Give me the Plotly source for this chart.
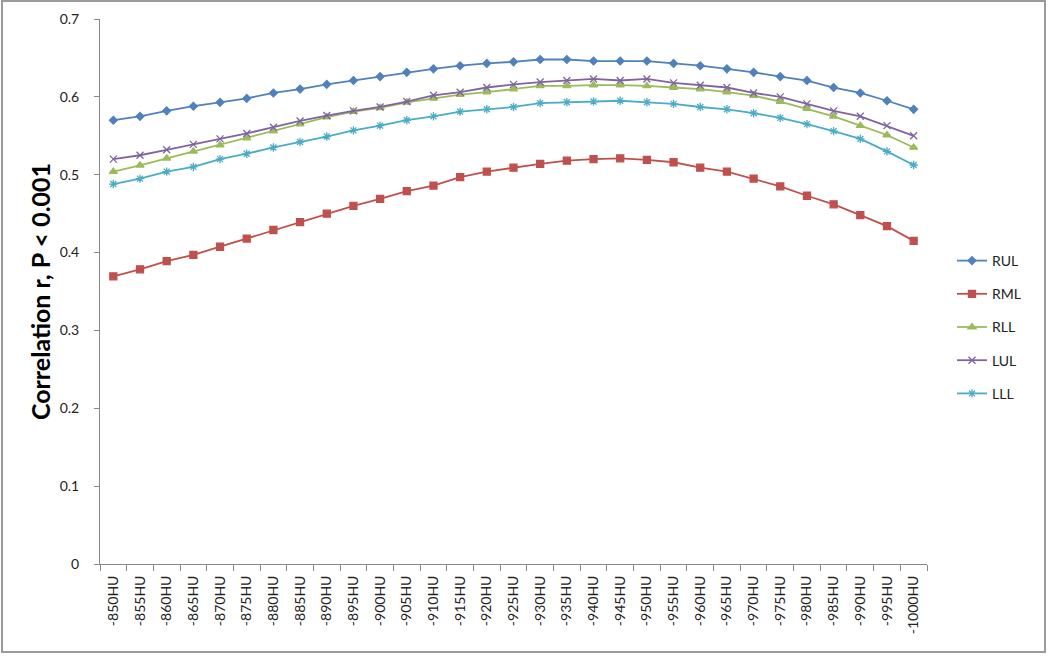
import plotly.graph_objects as go

categories = [f"-{v}HU" for v in range(850, 1001, 5)]

RUL = [0.570, 0.575, 0.582, 0.588, 0.593, 0.598, 0.605, 0.610, 0.616, 0.621,
       0.626, 0.6315, 0.636, 0.640, 0.643, 0.645, 0.648, 0.648, 0.646, 0.646,
       0.646, 0.643, 0.640, 0.636, 0.6315, 0.626, 0.621, 0.612, 0.605, 0.595, 0.584]
RML = [0.3695, 0.3785, 0.389, 0.397, 0.4075, 0.418, 0.429, 0.439, 0.450, 0.460,
       0.469, 0.479, 0.486, 0.497, 0.504, 0.509, 0.514, 0.518, 0.520, 0.521,
       0.519, 0.516, 0.509, 0.504, 0.495, 0.485, 0.473, 0.462, 0.448, 0.434, 0.415]
RLL = [0.504, 0.512, 0.521, 0.530, 0.538, 0.547, 0.556, 0.565, 0.574, 0.581,
       0.586, 0.593, 0.598, 0.603, 0.606, 0.610, 0.614, 0.614, 0.615, 0.615,
       0.614, 0.612, 0.610, 0.606, 0.6015, 0.594, 0.585, 0.575, 0.563, 0.551, 0.535]
LUL = [0.520, 0.525, 0.532, 0.539, 0.546, 0.553, 0.561, 0.569, 0.576, 0.582,
       0.587, 0.594, 0.602, 0.606, 0.612, 0.616, 0.619, 0.621, 0.623, 0.621,
       0.623, 0.618, 0.615, 0.612, 0.605, 0.600, 0.591, 0.582, 0.575, 0.563, 0.550]
LLL = [0.488, 0.495, 0.504, 0.510, 0.520, 0.527, 0.535, 0.542, 0.549, 0.557,
       0.563, 0.570, 0.575, 0.581, 0.584, 0.587, 0.592, 0.593, 0.594, 0.595,
       0.593, 0.591, 0.587, 0.584, 0.579, 0.573, 0.565, 0.556, 0.546, 0.530, 0.5125]

series_names = ["RUL", "RML", "RLL", "LUL", "LLL"]
series_values = [RUL, RML, RLL, LUL, LLL]
colors = ["#4F81BD", "#C0504D", "#9BBB59", "#8064A2", "#4BACC6"]
symbols = ["diamond", "square", "triangle-up", "x-thin-open", "asterisk-open"]
sizes = [6, 7, 7, 7, 7]

FONT = "Lato, 'Open Sans', sans-serif"

fig = go.Figure()
for name, vals, col, sym, sz in zip(series_names, series_values, colors, symbols, sizes):
    fig.add_trace(go.Scatter(
        x=categories, y=vals, name=name, mode="lines+markers",
        legendgroup=name,
        line=dict(color=col, width=1.8),
        marker=dict(symbol=sym, size=sz, color=col, line=dict(color=col, width=1.3)),
    ))

L, T, R, B = 100, 19, 123, 96
W, H = 1050, 660
pw, ph = W - L - R, H - T - B

fig.update_layout(
    width=W, height=H,
    margin=dict(l=L, r=R, t=T, b=B, autoexpand=False),
    paper_bgcolor="white", plot_bgcolor="white",
    font=dict(family=FONT, size=12, color="#222"),
    showlegend=True,
    legend=dict(
        x=(952 - L) / pw, xanchor="left",
        y=(564 - 245) / ph, yanchor="top",
        font=dict(family=FONT, size=14, color="#222"),
        tracegroupgap=12,
        bgcolor="rgba(0,0,0,0)",
    ),
    xaxis=dict(
        type="category", range=[-0.5, len(categories) - 0.5], automargin=False,
        showline=True, linecolor="#888", linewidth=1,
        ticks="outside", tickson="boundaries", ticklen=6, tickcolor="#888",
        tickangle=-90, ticklabelstandoff=5,
        tickfont=dict(family=FONT, size=14, color="#222"),
        showgrid=False, zeroline=False,
    ),
    yaxis=dict(
        range=[0, 0.7], dtick=0.1, automargin=False,
        showline=True, linecolor="#888", linewidth=1,
        ticks="outside", ticklen=5, tickcolor="#888", ticklabelstandoff=12,
        tickfont=dict(family=FONT, size=14, color="#222"),
        showgrid=False, zeroline=False,
        title=dict(text="<b>Correlation r, P < 0.001</b>",
                   font=dict(family=FONT, size=25, color="#000"), standoff=1),
    ),
    shapes=[dict(
        type="rect", xref="paper", yref="paper",
        x0=(2 - L) / pw, x1=(1045 - L) / pw,
        y0=(564 - 652) / ph, y1=(564 - 1) / ph,
        line=dict(color="#9a9a9a", width=2), fillcolor="rgba(0,0,0,0)", layer="below",
    )],
)

fig.write_html("out.html", config={"displayModeBar": False},
               post_script="document.body.style.margin='0';")
